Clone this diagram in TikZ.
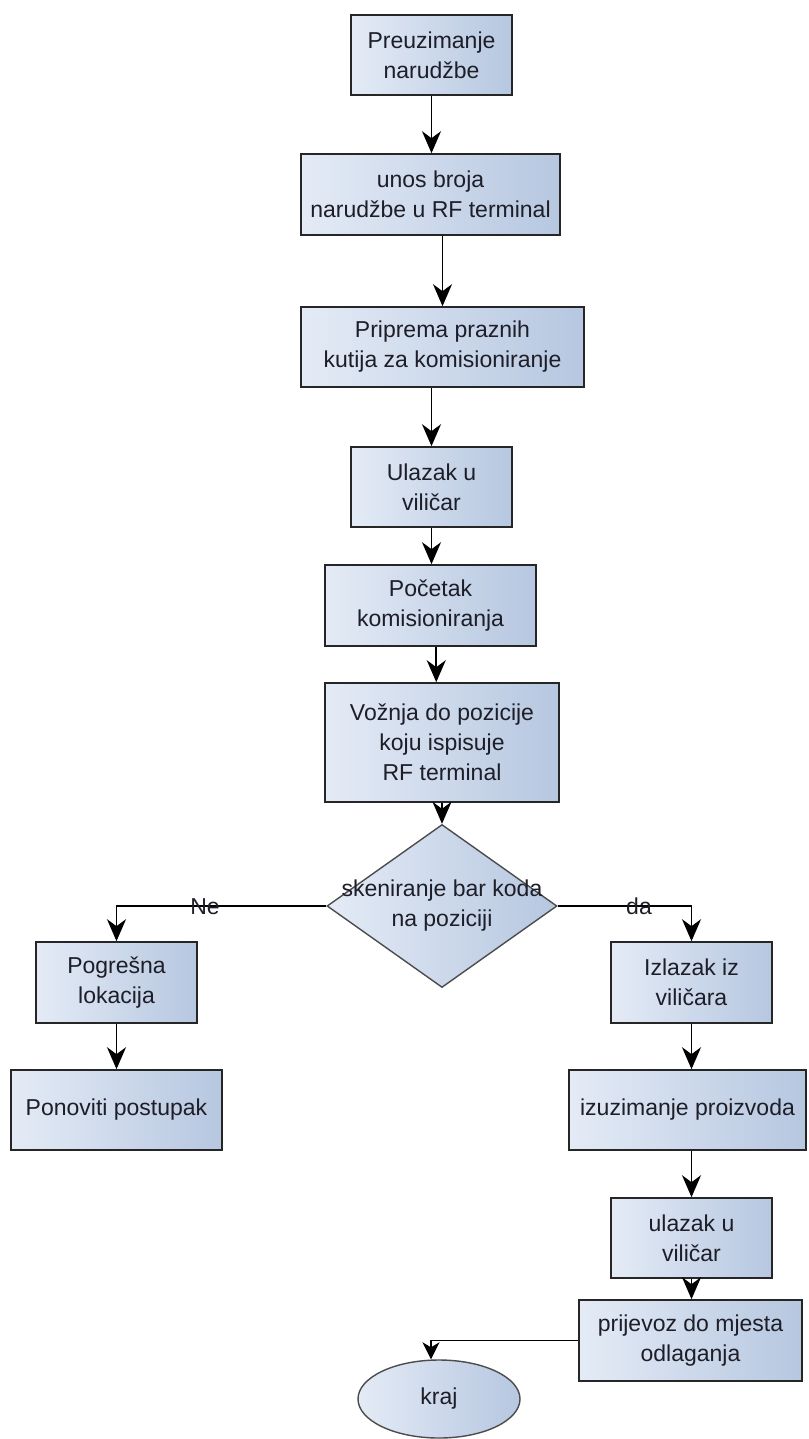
\documentclass[tikz,border=0pt]{standalone}
\usepackage{fontspec}
\setmainfont{Liberation Sans}
\usetikzlibrary{shapes.geometric,arrows.meta,calc}
\definecolor{fillL}{HTML}{E4EBF6}
\definecolor{fillR}{HTML}{B6C7E0}
\definecolor{txtc}{HTML}{1E1E28}
\tikzset{
  every node/.style={font=\fontsize{23}{30}\selectfont, text=txtc},
  box/.style={draw=black!85, line width=1.6pt, left color=fillL, right color=fillR, align=center, inner sep=0pt},
  dec/.style={shape=diamond, draw=black!70, line width=1.4pt, left color=fillL, right color=fillR, inner sep=0pt},
  term/.style={shape=ellipse, draw=black!70, line width=1.4pt, left color=fillL, right color=fillR, inner sep=0pt},
  arr/.style={line width=1.8pt, draw=black, -{Stealth[length=22pt,width=19pt,inset=7pt]}},
  arrshort/.style={line width=1.8pt, draw=black, -{Stealth[length=17pt,width=17pt,inset=5pt]}},
  lbl/.style={inner sep=0pt}
}
\begin{document}
\begin{tikzpicture}[x=1pt,y=-1pt]
\useasboundingbox (0,0) rectangle (808,1439);
\node[box, minimum width=161pt, minimum height=80pt] (n1) at (431.5,55) {Preuzimanje\\narudžbe};
\node[box, minimum width=259pt, minimum height=81pt] (n2) at (430.5,194.5) {unos broja\\narudžbe u RF terminal};
\node[box, minimum width=283pt, minimum height=80pt] (n3) at (442.5,347) {Priprema praznih\\kutija za komisioniranje};
\node[box, minimum width=161pt, minimum height=80pt] (n4) at (431.5,487) {Ulazak u\\viličar};
\node[box, minimum width=211pt, minimum height=81pt] (n5) at (430.5,605.5) {Početak\\komisioniranja};
\node[box, minimum width=234pt, minimum height=119pt] (n6) at (442,742.5) {Vožnja do pozicije\\koju ispisuje\\RF terminal};
\node[dec, minimum width=230pt, minimum height=163pt] (dia) at (442,906) {};
\node[align=center, inner sep=0pt] (diat) at (dia.center) {skeniranje bar koda\\na poziciji};
\node[box, minimum width=161pt, minimum height=81pt] (n7) at (116.5,982.5) {Pogrešna\\lokacija};
\node[box, minimum width=211pt, minimum height=80pt] (n8) at (116.5,1110) {Ponoviti postupak};
\node[box, minimum width=161pt, minimum height=81pt] (n9) at (691.5,982.5) {Izlazak iz\\viličara};
\node[box, minimum width=237pt, minimum height=80pt] (n10) at (687.5,1110) {izuzimanje proizvoda};
\node[box, minimum width=161pt, minimum height=80pt] (n11) at (691.5,1238) {ulazak u\\viličar};
\node[box, minimum width=223pt, minimum height=81pt] (n12) at (690.5,1340.5) {prijevoz do mjesta\\odlaganja};
\node[term, minimum width=162pt, minimum height=78pt] (kraj) at (439,1399) {kraj};

\draw[arr] (n1.south) -- (n1.south |- n2.north);
\draw[arr] (n3.north |- n2.south) -- (n3.north);
\draw[arr] (n4.north |- n3.south) -- (n4.north);
\draw[arr] (n4.south) -- (n4.south |- n5.north);
\coordinate (m56) at ($(n5.south)!.5!(n6.north)$);
\draw[arr] (n5.south -| m56) -- (n6.north -| m56);
\draw[arr] (n6.south) -- (dia.north);
\draw[arr] (dia.west) -| (n7.north);
\draw[arr] (dia.east) -| (n9.north);
\node[lbl] (ne) at (205,907) {Ne};
\node[lbl] (da) at (639,906) {da};
\draw[arr] (n7.south) -- (n8.north |- n7.south) -- (n8.north);
\draw[arr] (n9.south) -- (n9.south |- n10.north);
\draw[arr] (n11.north |- n10.south) -- (n11.north);
\draw[arr] (n11.south) -- (n11.south |- n12.north);
\coordinate (kt) at ([xshift=-8pt]kraj.north);
\draw[arrshort] (n12.west) -| (kt);
\end{tikzpicture}
\end{document}
